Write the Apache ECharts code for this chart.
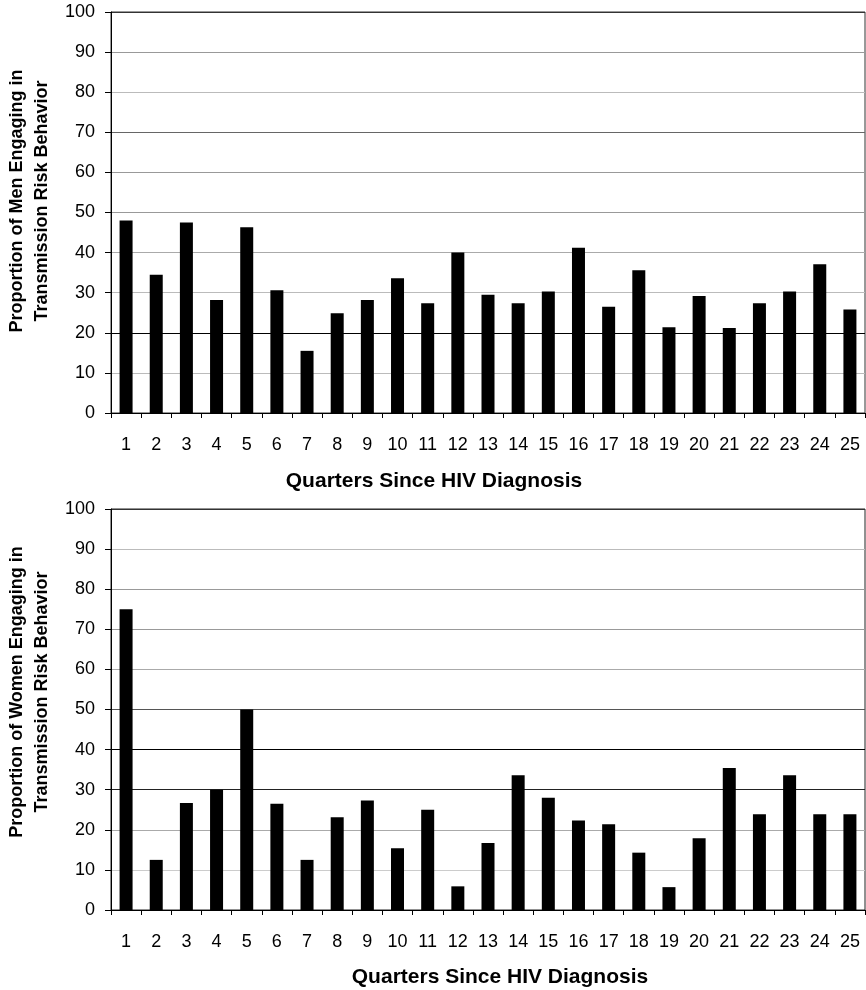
<!DOCTYPE html>
<html>
<head>
<meta charset="utf-8">
<script src="https://cdn.jsdelivr.net/npm/echarts@6/dist/echarts.min.js"></script>
<style>
  html, body { margin: 0; padding: 0; background: #fff; }
  #chart { width: 866px; height: 990px; }
</style>
</head>
<body>
<div id="chart"></div>
<script>
// quarters since diagnosis
const quarters = ['1', '2', '3', '4', '5', '6', '7', '8', '9', '10', '11', '12', '13',
  '14', '15', '16', '17', '18', '19', '20', '21', '22', '23', '24', '25']

// % engaging in transmission risk behavior
const menValues = [48, 34.5, 47.5, 28.2, 46.3, 30.6, 15.5, 24.9, 28.2, 33.6, 27.4, 40,
  29.5, 27.4, 30.3, 41.2, 26.5, 35.6, 21.4, 29.2, 21.2, 27.4, 30.3, 37.1, 25.8]
const womenValues = [75, 12.5, 26.7, 30, 50, 26.5, 12.5, 23.1, 27.3, 15.4, 25, 5.9,
  16.7, 33.6, 28, 22.3, 21.4, 14.3, 5.7, 17.9, 35.4, 23.9, 33.6, 23.9, 23.9]

const yTitles = [
  'Proportion of Men Engaging in\nTransmission Risk Behavior',
  'Proportion of Women Engaging in\nTransmission Risk Behavior',
]
const xTitle = 'Quarters Since HIV Diagnosis'

const font = "'Liberation Sans', Arial, sans-serif"

// gridline shades, one per tick from 0 to 100
const menGridColors = ['#000', '#bbb', '#000', '#bbb', '#aaa', '#999', '#999', '#666', '#bbb', '#999', '#333']
const womenGridColors = ['#000', '#ccc', '#aaa', '#222', '#000', '#555', '#aaa', '#999', '#999', '#bbb', '#333']

const xAxisFor = (gridIndex) => ({
  type: 'category',
  gridIndex,
  data: quarters,
  axisLine: { lineStyle: { color: '#000', width: 1 } },
  axisTick: { show: true, length: 5, lineStyle: { color: '#000' } },
  axisLabel: { fontFamily: font, fontSize: 18, color: '#000', margin: 23, interval: 0 },
})

const yAxisFor = (gridIndex, colors) => ({
  type: 'value',
  gridIndex,
  min: 0,
  max: 100,
  interval: 10,
  axisLine: { show: true, lineStyle: { color: '#000', width: 1 } },
  axisTick: { show: true, length: 6, lineStyle: { color: '#000' } },
  axisLabel: { fontFamily: font, fontSize: 18, color: '#000', margin: 16 },
  splitLine: { show: true, lineStyle: { color: colors, width: 1 } },
})

const titleText = (text, x, y, rotated) => ({
  type: 'text',
  x,
  y,
  rotation: rotated ? Math.PI / 2 : 0,
  style: {
    text,
    fill: '#000',
    font: (rotated ? 'bold 18px ' : 'bold 21px ') + font,
    lineHeight: 25,
    align: 'center',
    verticalAlign: 'middle',
  },
})

const myChart = echarts.init(document.getElementById('chart'))
myChart.setOption({
  animation: false,
  grid: [
    { left: 111, right: 1, top: 12, height: 401, show: true, borderColor: '#333', borderWidth: 1, outerBoundsMode: 'none' },
    { left: 111, right: 1, top: 509, height: 401, show: true, borderColor: '#222', borderWidth: 1, outerBoundsMode: 'none' },
  ],
  xAxis: [xAxisFor(0), xAxisFor(1)],
  yAxis: [yAxisFor(0, menGridColors), yAxisFor(1, womenGridColors)],
  graphic: [
    titleText(yTitles[0], 30, 201, true),
    titleText(yTitles[1], 30, 692, true),
    titleText(xTitle, 434, 481, false),
    titleText(xTitle, 500, 977, false),
  ],
  series: [
    {
      name: 'Men',
      type: 'bar',
      xAxisIndex: 0,
      yAxisIndex: 0,
      barWidth: 13,
      itemStyle: { color: '#000' },
      data: menValues,
    },
    {
      name: 'Women',
      type: 'bar',
      xAxisIndex: 1,
      yAxisIndex: 1,
      barWidth: 13,
      itemStyle: { color: '#000' },
      data: womenValues,
    },
  ],
})
</script>
</body>
</html>
